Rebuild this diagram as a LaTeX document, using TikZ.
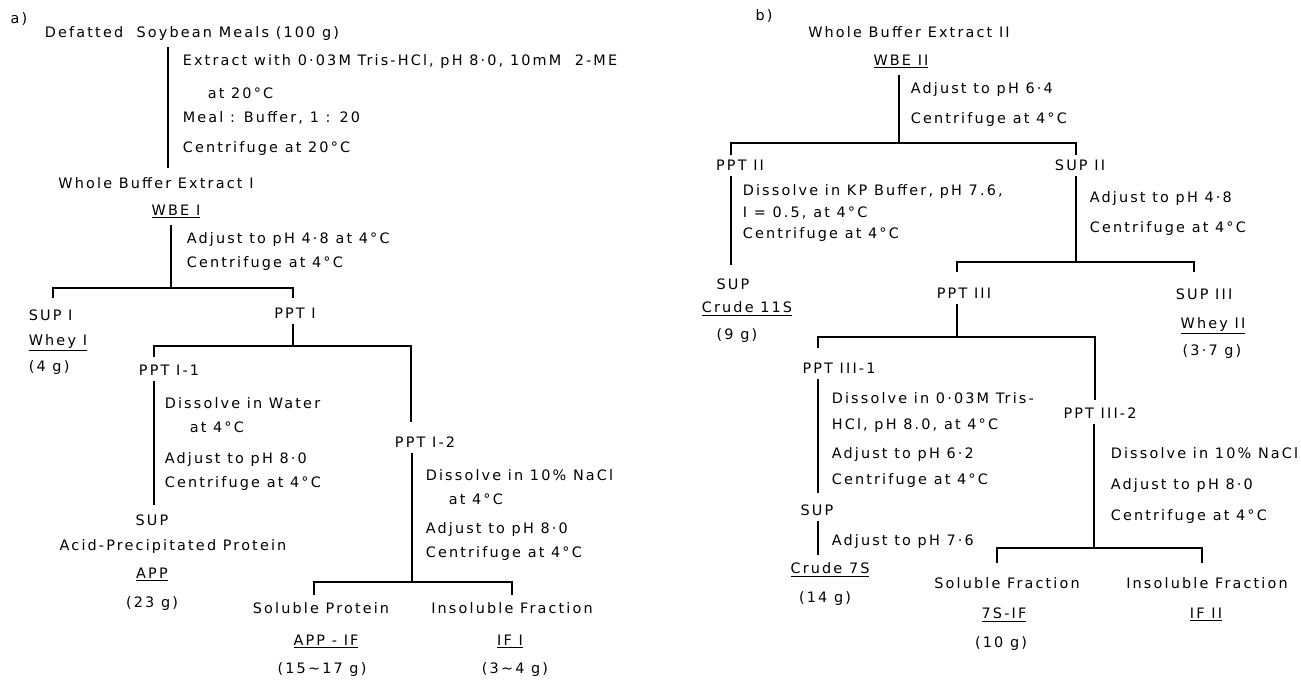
\documentclass[tikz,border=0pt]{standalone}
\usepackage{fontspec}
\setmainfont{DejaVu Sans}[LetterSpace=15]
\usetikzlibrary{positioning}

\begin{document}
\begin{tikzpicture}[
  x=0.5pt, y=-0.5pt,
  font=\fontsize{7.2}{12}\selectfont,
  line width=0.8pt,
  item/.style={anchor=base,inner sep=2.5pt},
  stepbox/.style={anchor=north west,align=left,inner sep=0pt,font=\fontsize{7.2}{#1}\selectfont},
  stepbox/.default=12pt,
]
\useasboundingbox (0,0) rectangle (1301,680);

% a) whole buffer extract I
\node[item] (la)    at (19,24)   {a)};
\node[item] (dsm)   at (192,38)  {Defatted\ \ Soybean Meals (100 g)};
\node[stepbox] (st1) at (182,54) {Extract with 0·03M Tris-HCl, pH 8·0, 10mM\ \ 2-ME\\[4.5pt]\hspace*{12.5pt}at 20°C\\Meal : Buffer, 1 : 20\\[3pt]Centrifuge at 20°C};
\node[item] (wbx1)  at (156,188) {Whole Buffer Extract I};
\node[item] (wbe1)  at (176,215) {\underline{WBE I}};
\node[stepbox] (st2) at (186,232) {Adjust to pH 4·8 at 4°C\\Centrifuge at 4°C};
\node[item,anchor=base west] (sup1) at (23,320) {SUP I};
\node[item,anchor=base west] (why1) at (23,345) {\underline{Whey I}};
\node[item,anchor=base west] (g4)   at (23,371) {(4 g)};
\node[item] (ppt1)  at (295,318) {PPT I};
\node[item] (ppt11) at (169,375) {PPT I-1};
\node[stepbox] (st3) at (164,397) {Dissolve in Water\\\hspace*{12.5pt}at 4°C\\[3.5pt]Adjust to pH 8·0\\Centrifuge at 4°C};
\node[item] (sup11) at (152,525) {SUP};
\node[item] (acid)  at (173,550) {Acid-Precipitated Protein};
\node[item] (app)   at (152,578) {\underline{APP}};
\node[item] (g23)   at (152,607) {(23 g)};
\node[item] (ppt12) at (425,447) {PPT I-2};
\node[stepbox] (st4) at (425,469) {Dissolve in 10\% NaCl\\\hspace*{11.5pt}at 4°C\\[2.5pt]Adjust to pH 8·0\\Centrifuge at 4°C};
\node[item] (solp)  at (321,613) {Soluble Protein};
\node[item] (appif) at (326,645) {\underline{APP - IF}};
\node[item] (g1517) at (322,673) {(15\textasciitilde17 g)};
\node[item] (insp)  at (512,613) {Insoluble Fraction};
\node[item] (if1)   at (510,645) {\underline{IF I}};
\node[item] (g34)   at (515,673) {(3\textasciitilde4 g)};

\coordinate (k1) at (168,168);
\draw (dsm.south -| k1) -- (k1);
\coordinate (m1) at (171,288);
\coordinate (e1a) at (53,298);
\coordinate (e1b) at (293,298);
\draw (wbe1.south -| m1) -- (m1);
\draw (e1a) |- (m1) -| (e1b);
\coordinate (m2) at (293,346);
\coordinate (e2a) at (154,357);
\coordinate (e2b) at (411,422);
\draw (ppt1.south -| m2) -- (m2);
\draw (e2a) |- (m2) -| (e2b);
\coordinate (k3) at (154,505);
\draw (ppt11.south -| k3) -- (k3);
\coordinate (m3) at (412,582);
\coordinate (e3a) at (314,595);
\coordinate (e3b) at (512,595);
\draw (ppt12.south -| m3) -- (m3);
\draw (e3a) |- (m3) -| (e3b);

% b) whole buffer extract II
\node[item] (lb)    at (764,20)  {b)};
\node[item] (wbx2)  at (909,38)  {Whole Buffer Extract II};
\node[item] (wbe2)  at (901,65)  {\underline{WBE II}};
\node[stepbox=15pt] (rt1) at (910,82) {Adjust to pH 6·4\\Centrifuge at 4°C};
\node[item] (ppt2)  at (740,170) {PPT II};
\node[item] (sup2)  at (1080,170) {SUP II};
\node[stepbox=10.8pt] (rt2) at (742,184) {Dissolve in KP Buffer, pH 7.6,\\I = 0.5, at 4°C\\Centrifuge at 4°C};
\node[item] (sup21) at (733,289) {SUP};
\node[item] (c11s)  at (747,312) {\underline{Crude 11S}};
\node[item] (g9)    at (737,339) {(9 g)};
\node[stepbox=15pt] (rt3) at (1089,191) {Adjust to pH 4·8\\Centrifuge at 4°C};
\node[item] (ppt3)  at (964,298) {PPT III};
\node[item] (sup3)  at (1204,299) {SUP III};
\node[item] (why2)  at (1213,328) {\underline{Whey II}};
\node[item] (g37)   at (1212,355) {(3·7 g)};
\node[item] (ppt31) at (839,373) {PPT III-1};
\node[stepbox=13pt] (rt4) at (831,392) {Dissolve in 0·03M Tris-\\HCl, pH 8.0, at 4°C\\[1.5pt]Adjust to pH 6·2\\Centrifuge at 4°C};
\node[item] (sup31) at (817,515) {SUP};
\node[stepbox] (rt5) at (831,534) {Adjust to pH 7·6};
\node[item] (c7s)   at (830,573) {\underline{Crude 7S}};
\node[item] (g14)   at (825,602) {(14 g)};
\node[item] (ppt32) at (1100,418) {PPT III-2};
\node[stepbox=15.5pt] (rt6) at (1110,447) {Dissolve in 10\% NaCl\\Adjust to pH 8·0\\Centrifuge at 4°C};
\node[item] (solf)  at (1007,588) {Soluble Fraction};
\node[item] (s7if)  at (1004,618) {\underline{7S-IF}};
\node[item] (g10)   at (1001,647) {(10 g)};
\node[item] (insf)  at (1207,588) {Insoluble Fraction};
\node[item] (if2)   at (1206,618) {\underline{IF II}};

\coordinate (m4) at (899,143);
\coordinate (e4a) at (731,155);
\coordinate (e4b) at (1076,155);
\draw (wbe2.south -| m4) -- (m4);
\draw (e4a) |- (m4) -| (e4b);
\coordinate (k5) at (731,265);
\draw (ppt2.south -| k5) -- (k5);
\coordinate (m6) at (1076,262);
\coordinate (e6a) at (957,272);
\coordinate (e6b) at (1194,272);
\draw (sup2.south -| m6) -- (m6);
\draw (e6a) |- (m6) -| (e6b);
\coordinate (m7) at (957,337);
\coordinate (e7a) at (818,348);
\coordinate (e7b) at (1095,400);
\draw (ppt3.south -| m7) -- (m7);
\draw (e7a) |- (m7) -| (e7b);
\coordinate (k8) at (818,493);
\draw (ppt31.south -| k8) -- (k8);
\coordinate (k9) at (818,555);
\draw (sup31.south -| k9) -- (k9);
\coordinate (m10) at (1094,548);
\coordinate (e10a) at (997,563);
\coordinate (e10b) at (1202,563);
\draw (ppt32.south -| m10) -- (m10);
\draw (e10a) |- (m10) -| (e10b);
\end{tikzpicture}
\end{document}
